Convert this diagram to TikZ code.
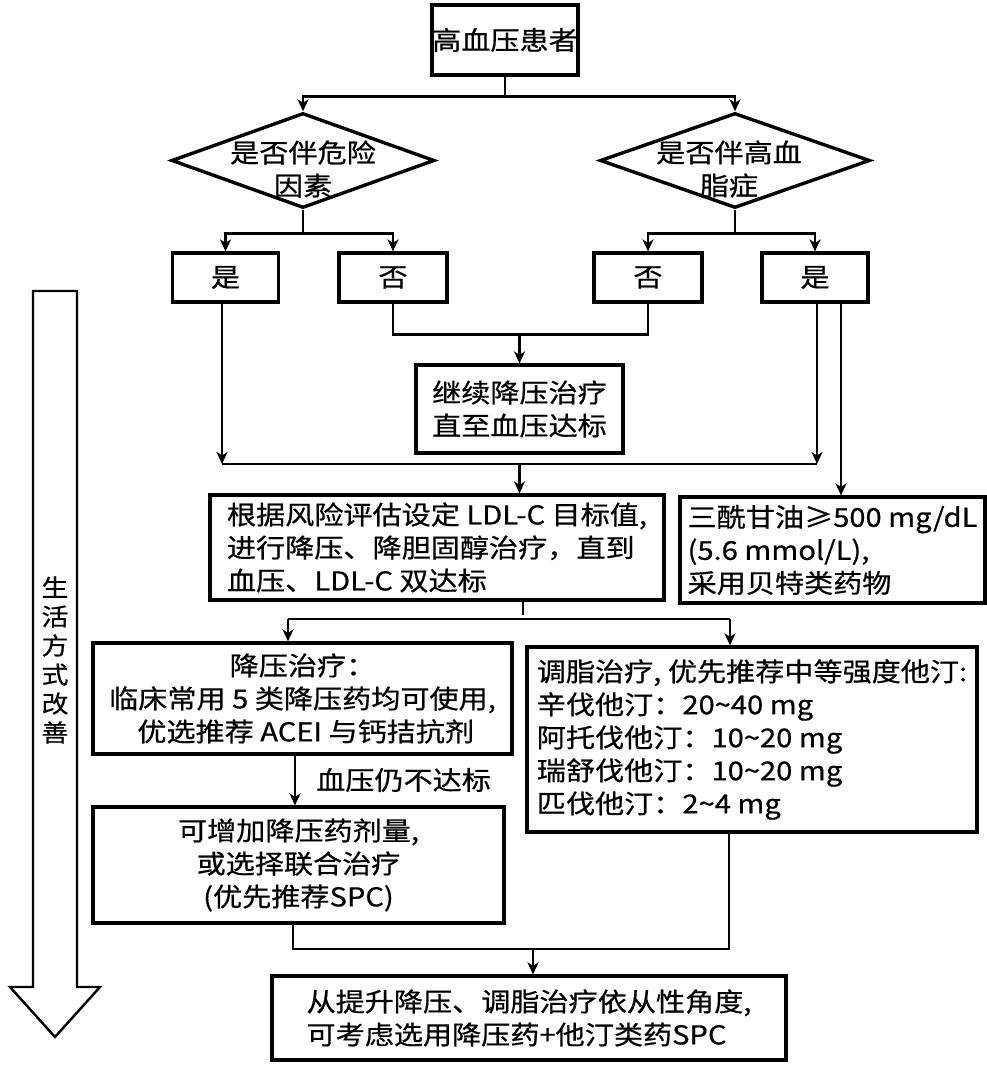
\documentclass[tikz,border=0pt]{standalone}
\usepackage{fontspec}
\setmainfont{Noto Sans CJK SC}[FakeStretch=1.12,FakeBold=0.6]
\usetikzlibrary{arrows.meta,shapes.geometric}
\begin{document}
\begin{tikzpicture}[x=1pt,y=-1pt,
  box/.style={draw, line width=3.2pt, inner sep=0pt, font=\fontsize{26}{33}\selectfont},
  diam/.style={draw, diamond, line width=3.4pt, inner sep=0pt, aspect=2.77},
  conn/.style={line width=2.8pt},
  arr/.style={conn, -{Stealth[length=12pt,width=11pt,inset=3.5pt]}},
  txt/.style={font=\fontsize{26}{33}\selectfont, inner sep=0pt}
]
\useasboundingbox (0,0) rectangle (986,1067);

% nodes
\node[box, minimum width=146, minimum height=70] (top) at (505,40) {高血压患者};
\node[diam, minimum width=263, minimum height=95] (dl) at (303,160.5) {};
\node[txt, align=center] (dlt) at (303,169) {是否伴危险\\因素};
\node[diam, minimum width=270, minimum height=95] (dr) at (735,160.5) {};
\node[txt, align=center] (drt) at (729,169) {是否伴高血\\脂症};

\node[box, minimum width=106, minimum height=49] (yesL) at (225.5,277.5) {是};
\node[box, minimum width=108, minimum height=49] (noL) at (393,277.5) {否};
\node[box, minimum width=108, minimum height=49] (noR) at (648,277.5) {否};
\node[box, minimum width=106, minimum height=49] (yesR) at (815,277.5) {是};

\node[box, align=center, minimum width=207, minimum height=88] (cont) at (519.5,409) {继续降压治疗\\直至血压达标};

\node[box, align=left, minimum width=454, minimum height=105] (ldl) at (437,547.5)
  {根据风险评估设定 LDL-C 目标值,\\进行降压、降胆固醇治疗，直到\\血压、LDL-C 双达标};
\node[box, align=left, minimum width=305, minimum height=106] (tg) at (832.5,550)
  {三酰甘油≥500 mg/dL\\(5.6 mmol/L),\\采用贝特类药物};

\node[box, align=center, minimum width=419, minimum height=111] (bp) at (302.5,698.5)
  {降压治疗：\\临床常用 5 类降压药均可使用,\\\ 优选推荐 ACEI 与钙拮抗剂};
\node[box, align=left, minimum width=450, minimum height=185] (lip) at (752,739.5)
  {调脂治疗, 优先推荐中等强度他汀:\\辛伐他汀：20\textasciitilde 40 mg\\阿托伐他汀：10\textasciitilde 20 mg\\瑞舒伐他汀：10\textasciitilde 20 mg\\匹伐他汀：2\textasciitilde 4 mg};

\node[box, align=center, minimum width=411, minimum height=116] (add) at (298.5,865)
  {可增加降压药剂量,\\或选择联合治疗\\(优先推荐SPC)};
\node[box, align=left, minimum width=514, minimum height=84] (fin) at (529,1018)
  {从提升降压、调脂治疗依从性角度,\\可考虑选用降压药+他汀类药SPC};

\node[txt, anchor=west] (lab) at (316,780) {血压仍不达标};

% lifestyle arrow
\draw[line width=2.4pt, line join=miter] (33,291) -- (77,291) -- (77,987) -- (100,987)
  -- (55,1037) -- (10,987) -- (33,987) -- cycle;
\node[inner sep=0pt, align=center, font=\fontsize{24}{29}\selectfont] (life) at (55,660)
  {生\\活\\方\\式\\改\\善};

% connectors
\draw[conn] (top.south) -- ++(0,20) coordinate (j1);
\draw[arr] (j1) -| (dl.north);
\draw[arr] (j1) -| (dr.north);

\draw[conn] (dl.south) -- ++(0,24) coordinate (j2);
\draw[arr] (j2) -| (yesL.north);
\draw[arr] (j2) -| (noL.north);
\draw[conn] (dr.south) -- ++(0,24) coordinate (j3);
\draw[arr] (j3) -| (noR.north);
\draw[arr] (j3) -| (yesR.north);

\draw[conn] (noL.south) -- ++(0,31) coordinate (j4) -| (noR.south);
\draw[arr] (j4 -| cont.north) -- (cont.north);

\coordinate (bL) at (222,464);
\coordinate (bR) at (817,464);
\draw[arr] (bL |- yesL.south) -- (bL);
\draw[arr] (bR |- yesR.south) -- (bR);
\draw[conn] (bL) -- (bR);
\draw[arr] (bL -| cont.south) -- (ldl.north -| cont.south);

\coordinate (tgin) at (841,400);
\draw[arr] (tgin |- yesR.south) -- (tgin |- tg.north);

\coordinate (c2) at (523,619);
\coordinate (b2L) at (288,619);
\coordinate (b2R) at (730,619);
\draw[conn] (c2 |- ldl.south) -- ++(0,13);
\draw[conn] (b2L) -- (b2R);
\draw[arr] (b2L) -- (b2L |- bp.north);
\draw[arr] (b2R) -- (b2R |- lip.north);

\coordinate (v1) at (295,780);
\draw[arr] (v1 |- bp.south) -- (v1 |- add.north);

\coordinate (b3L) at (293,949);
\coordinate (b3R) at (729,949);
\coordinate (b3M) at (533,949);
\draw[conn] (b3L |- add.south) -- (b3L) -- (b3R) -- (b3R |- lip.south);
\draw[arr] (b3M) -- (b3M |- fin.north);
\end{tikzpicture}
\end{document}
